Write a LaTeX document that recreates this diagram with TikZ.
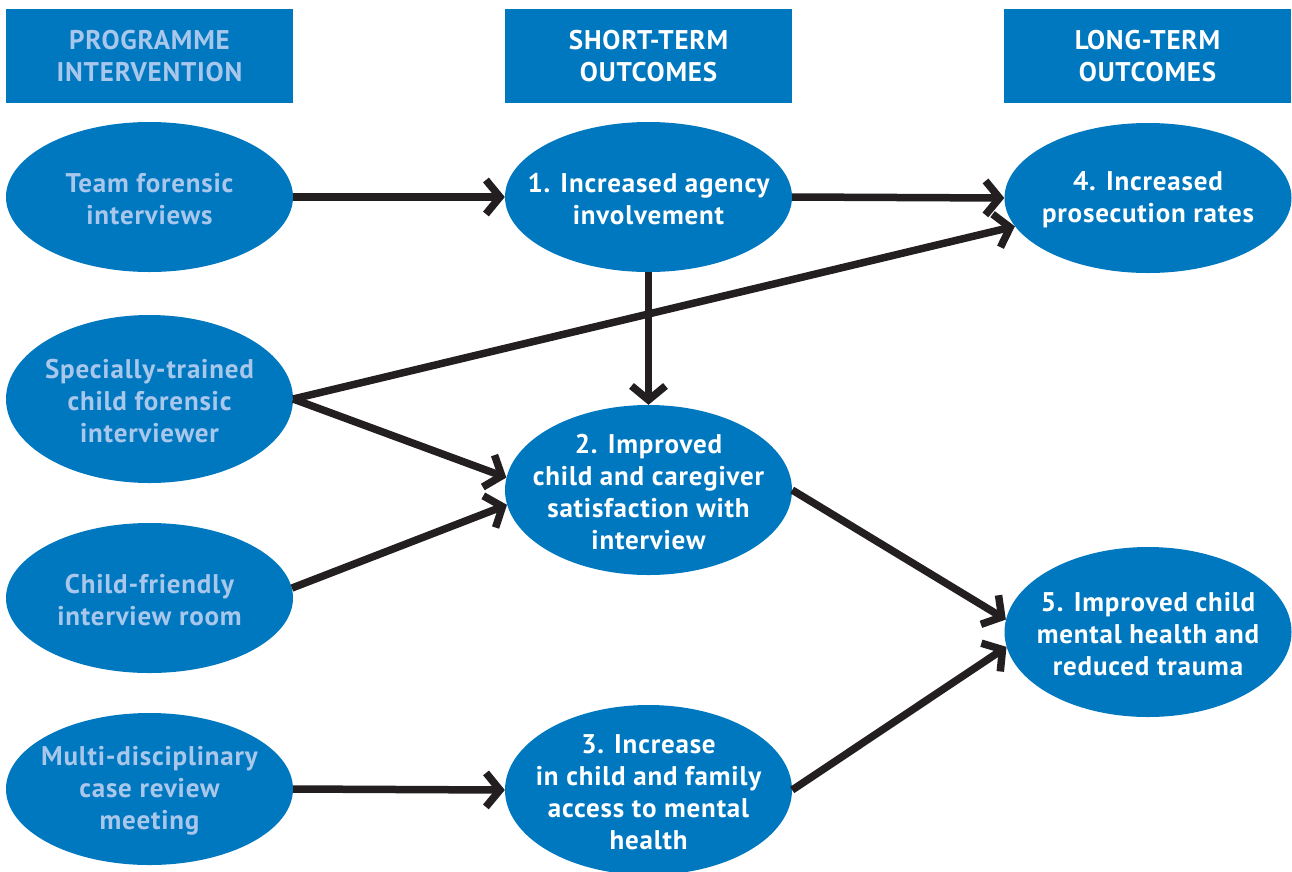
\documentclass[tikz,border=0pt]{standalone}
\usepackage{fontspec}
\setmainfont{PT Sans}[LetterSpace=3]
\usetikzlibrary{shapes.geometric,arrows.meta,calc}
\definecolor{cblue}{RGB}{0,120,192}
\definecolor{clight}{RGB}{169,199,235}
\definecolor{cdark}{RGB}{35,31,32}
\begin{document}
\begin{tikzpicture}[x=1pt,y=-1pt,
  txt/.style={font=\fontsize{27}{32}\selectfont\bfseries, align=center},
  hbox/.style={rectangle, fill=cblue, minimum width=287pt, minimum height=94pt, inner sep=0pt, txt},
  oval/.style={ellipse, fill=cblue, minimum width=287pt, minimum height=#1, inner sep=0pt},
  ltext/.style={label={[txt,text=clight,yshift=-2pt]center:#1}},
  wtext/.style={label={[txt,text=white,yshift=-2pt]center:#1}},
  conn/.style={draw=cdark, line width=7.5pt, -{Straight Barb[length=14pt,width=34pt]}}]
\useasboundingbox (0,0) rectangle (1292,871);
\begin{scope}
\clip (0,0) rectangle (1292,871);
% headers
\node[hbox, text=clight] (h1) at (149.5,56) {PROGRAMME\\INTERVENTION};
\node[hbox, text=white] (h2) at (648.5,56) {SHORT-TERM\\OUTCOMES};
\node[hbox, text=white] (h3) at (1147.5,56) {LONG-TERM\\OUTCOMES};
% left column
\node[oval=150pt, ltext={Team forensic\\interviews}] (l1) at (149.5,197) {};
\node[oval=168pt, ltext={Specially-trained\\child forensic\\interviewer}] (l2) at (149.5,399) {};
\node[oval=150pt, ltext={Child-friendly\\interview room}] (l3) at (149.5,598) {};
\node[oval=152pt, ltext={Multi-disciplinary\\case review\\meeting}] (l4) at (149.5,789) {};
% middle column
\node[oval=150pt, wtext={1. Increased agency\\involvement}] (m1) at (648.5,197) {};
\node[oval=170pt, wtext={2. Improved\\child and caregiver\\satisfaction with\\interview}] (m2) at (648.5,490) {};
\node[oval=170pt, wtext={3. Increase\\in child and family\\access to mental\\health}] (m3) at (648.5,790) {};
% right column
\node[oval=150pt, wtext={4. Increased\\prosecution rates}] (r4) at (1148,198) {};
\node[oval=170pt, wtext={5. Improved child\\mental health and\\reduced trauma}] (r5) at (1148,632) {};
\end{scope}
% connectors
\draw[conn] (l1.east) -- (m1.west);
\draw[conn] (m1.east) -- (r4.west);
\draw[conn] (l2.east) -- (r4.192);
\draw[conn] (l2.east) -- (m2.175);
\draw[conn] (l3.4) -- (m2.186);
\draw[conn] (m1.south) -- (m2.north);
\draw[conn] (m2.east) -- (r5.175);
\draw[conn] (m3.east) -- (r5.186);
\draw[conn] (l4.east) -- (m3.west);
\end{tikzpicture}
\end{document}
